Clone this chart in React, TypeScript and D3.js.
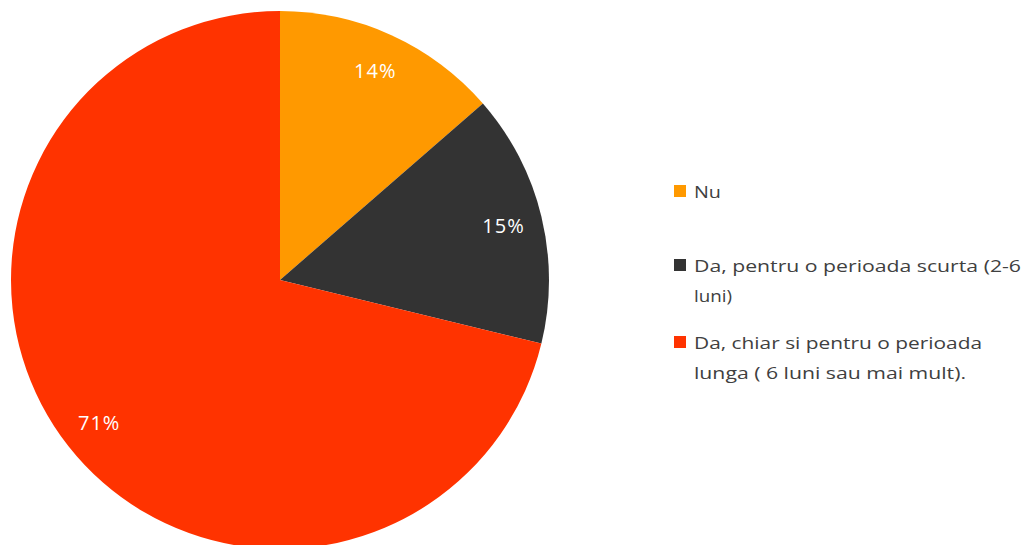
import React, { useRef, useEffect } from 'react';
import * as d3 from 'd3';

// slice data, clockwise from 12 o'clock
const categories = [
    'Nu',
    'Da, pentru o perioada scurta (2-6 luni)',
    'Da, chiar si pentru o perioada lunga ( 6 luni sau mai mult).',
];
const values = [13.6, 15.2, 71.2];
const colors = ['#FF9900', '#333333', '#FF3300'];
// legend text as it wraps in the picture
const legendLines = [
    ['Nu'],
    ['Da, pentru  o perioada  scurta  (2-6', 'luni)'],
    ['Da, chiar  si pentru  o perioada', 'lunga ( 6 luni sau mai mult).'],
];
const legendLineWidths = [[27], [327, 38], [288, 272]];

export default function App() {
    const ref = useRef<SVGSVGElement>(null);

    useEffect(() => {
        const svg = d3.select(ref.current);
        svg.selectAll('*').remove();

        const width = 1029;
        const height = 545;
        const cx = 280;
        const cy = 280;
        const radius = 269;

        svg.append('rect').attr('width', width).attr('height', height).attr('fill', '#fff');

        const pie = d3
            .pie<number>()
            .value((d) => d)
            .sort(null);
        const arcs = pie(values);

        const arc = d3.arc<d3.PieArcDatum<number>>().innerRadius(0).outerRadius(radius);
        const labelArc = d3
            .arc<d3.PieArcDatum<number>>()
            .innerRadius(radius * 0.855)
            .outerRadius(radius * 0.855);

        const g = svg.append('g').attr('transform', `translate(${cx},${cy})`);

        g.selectAll('path')
            .data(arcs)
            .join('path')
            .attr('d', arc)
            .attr('fill', (_, i) => colors[i]);

        const total = d3.sum(values);
        g.selectAll('text')
            .data(arcs)
            .join('text')
            .attr('x', (d) => labelArc.centroid(d)[0])
            .attr('y', (d) => labelArc.centroid(d)[1])
            .attr('text-anchor', 'middle')
            .attr('dominant-baseline', 'central')
            .attr('fill', '#ffffff')
            .attr('font-family', 'Open Sans, sans-serif')
            .attr('font-size', 20)
            .attr('letter-spacing', 1)
            .text((d) => `${Math.round((d.value / total) * 100)}%`);

        // legend
        const legendX = 674;
        const rowTops = [191, 265, 342];
        const lineGap = 30;
        const legend = svg.append('g');

        legendLines.forEach((lines, i) => {
            legend
                .append('rect')
                .attr('x', legendX)
                .attr('y', rowTops[i] - 6)
                .attr('width', 12)
                .attr('height', 12)
                .attr('fill', colors[i]);

            lines.forEach((line, j) => {
                legend
                    .append('text')
                    .attr('x', legendX + 20)
                    .attr('y', rowTops[i] + j * lineGap)
                    .attr('dominant-baseline', 'central')
                    .attr('fill', '#404040')
                    .attr('font-family', 'Open Sans, sans-serif')
                    .attr('font-size', 17)
                    .attr('textLength', legendLineWidths[i][j])
                    .attr('lengthAdjust', 'spacingAndGlyphs')
                    .text(line);
            });
        });
    }, []);

    return (
        <svg
            ref={ref}
            width={1029}
            height={545}
            style={{ position: 'absolute', left: 0, top: 0 }}
            aria-label={categories.join(', ')}
        />
    );
}
